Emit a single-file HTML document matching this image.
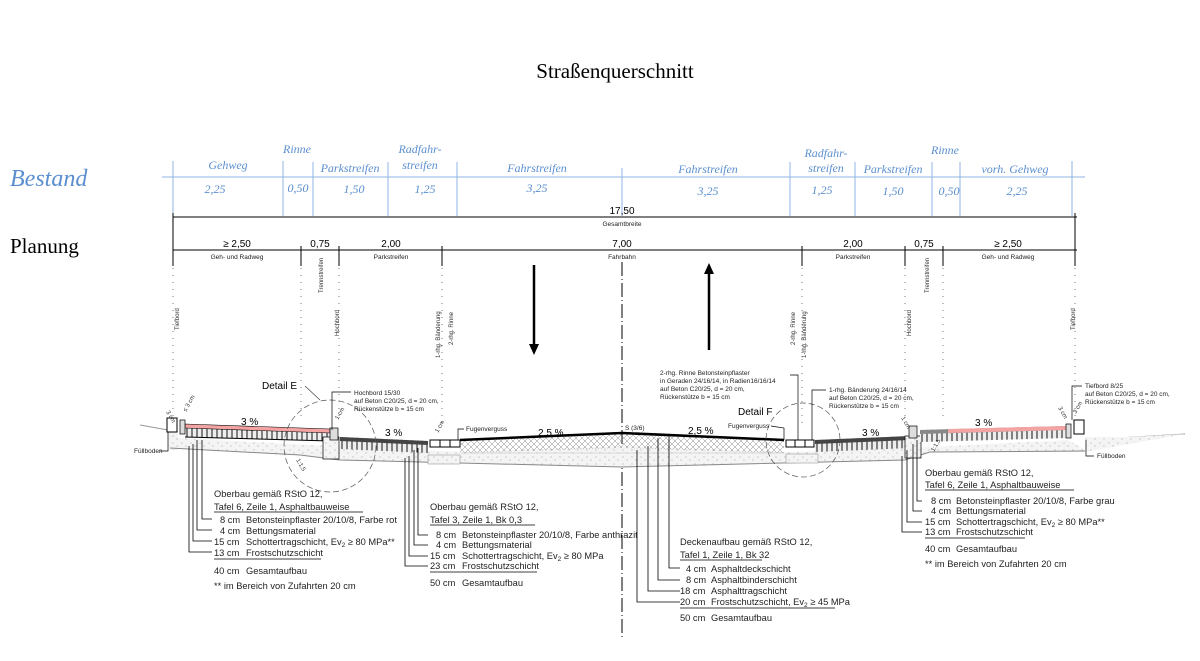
<!DOCTYPE html>
<html><head><meta charset="utf-8"><style>
html,body{margin:0;padding:0;background:#fff;}
svg{display:block;font-family:"Liberation Sans",sans-serif;}
.b{font-family:"Liberation Serif",serif;font-style:italic;fill:#5b8fcf;font-size:12px;text-anchor:middle;}
.t{font-size:9.3px;fill:#222;}
.s{font-size:6.5px;fill:#222;}
.v{font-size:6px;fill:#333;}
</style></head><body>
<svg width="1200" height="661" viewBox="0 0 1200 661">
<defs>
<pattern id="hx" width="6" height="6" patternUnits="userSpaceOnUse"><path d="M0 0L6 6M6 0L0 6" stroke="#888" stroke-width="0.5"/></pattern>
<pattern id="vh" width="5" height="10" patternUnits="userSpaceOnUse"><rect width="5" height="10" fill="#eee"/><path d="M2 0V10" stroke="#111" stroke-width="1"/></pattern>
<pattern id="dt" width="9" height="7" patternUnits="userSpaceOnUse"><rect width="9" height="7" fill="#f4f4f4"/><circle cx="2" cy="2" r="0.5" fill="#888"/><circle cx="6" cy="5" r="0.5" fill="#888"/></pattern>
</defs>
<text x="615" y="78" font-family="Liberation Serif,serif" font-size="21" text-anchor="middle">Straßenquerschnitt</text>
<text x="10" y="186" font-family="Liberation Serif,serif" font-style="italic" font-size="24" fill="#5b8fcf">Bestand</text>
<text x="10" y="253" font-family="Liberation Serif,serif" font-size="21">Planung</text>

<g stroke="#8fb6e3" stroke-width="1">
<line x1="162" y1="177" x2="1085" y2="177"/>
<line x1="173" y1="161" x2="173" y2="216"/><line x1="283" y1="161" x2="283" y2="216"/>
<line x1="313" y1="162" x2="313" y2="216"/><line x1="388" y1="162" x2="388" y2="216"/>
<line x1="457" y1="162" x2="457" y2="216"/><line x1="622" y1="168" x2="622" y2="216"/>
<line x1="790" y1="162" x2="790" y2="216"/><line x1="855" y1="162" x2="855" y2="216"/>
<line x1="932" y1="162" x2="932" y2="216"/><line x1="960" y1="162" x2="960" y2="216"/>
<line x1="1072" y1="161" x2="1072" y2="216"/>
</g>
<text class="b" x="228" y="169" font-size="13">Gehweg</text>
<text class="b" x="297" y="153" font-size="13">Rinne</text>
<text class="b" x="350" y="172" font-size="13">Parkstreifen</text>
<text class="b" x="420" y="153" font-size="13">Radfahr-</text>
<text class="b" x="420" y="169" font-size="13">streifen</text>
<text class="b" x="537" y="172" font-size="13">Fahrstreifen</text>
<text class="b" x="708" y="173" font-size="13">Fahrstreifen</text>
<text class="b" x="826" y="157" font-size="13">Radfahr-</text>
<text class="b" x="826" y="172" font-size="13">streifen</text>
<text class="b" x="893" y="173" font-size="13">Parkstreifen</text>
<text class="b" x="945" y="154" font-size="13">Rinne</text>
<text class="b" x="1015" y="173" font-size="13">vorh. Gehweg</text>
<text class="b" x="215" y="193" font-size="13">2,25</text>
<text class="b" x="298" y="192" font-size="13">0,50</text>
<text class="b" x="354" y="193" font-size="13">1,50</text>
<text class="b" x="425" y="193" font-size="13">1,25</text>
<text class="b" x="537" y="192" font-size="13">3,25</text>
<text class="b" x="708" y="195" font-size="13">3,25</text>
<text class="b" x="822" y="194" font-size="13">1,25</text>
<text class="b" x="893" y="195" font-size="13">1,50</text>
<text class="b" x="949" y="195" font-size="13">0,50</text>
<text class="b" x="1017" y="195" font-size="13">2,25</text>

<g stroke="#000" stroke-width="1">
<line x1="173" y1="217" x2="1077" y2="217"/>
<line x1="173" y1="250" x2="1077" y2="250"/>
<line x1="173" y1="213" x2="173" y2="266"/><line x1="1075" y1="213" x2="1075" y2="266"/>
<line x1="301" y1="246" x2="301" y2="266"/><line x1="339" y1="246" x2="339" y2="266"/>
<line x1="442" y1="246" x2="442" y2="266"/><line x1="802" y1="246" x2="802" y2="266"/>
<line x1="905" y1="246" x2="905" y2="266"/><line x1="943" y1="246" x2="943" y2="266"/>
</g>
<text x="622" y="214" font-size="10" text-anchor="middle">17,50</text>
<text class="s" x="622" y="226" text-anchor="middle">Gesamtbreite</text>
<g font-size="10" text-anchor="middle">
<text x="237" y="247">≥ 2,50</text><text x="320" y="247">0,75</text><text x="391" y="247">2,00</text>
<text x="622" y="247">7,00</text><text x="853" y="247">2,00</text><text x="924" y="247">0,75</text><text x="1008" y="247">≥ 2,50</text>
</g>
<g class="s" text-anchor="middle">
<text x="237" y="259">Geh- und Radweg</text><text x="391" y="259">Parkstreifen</text><text x="622" y="259">Fahrbahn</text>
<text x="853" y="259">Parkstreifen</text><text x="1008" y="259">Geh- und Radweg</text>
</g>

<g stroke="#777" stroke-width="1" stroke-dasharray="1,6">
<line x1="173" y1="268" x2="173" y2="420"/><line x1="301" y1="268" x2="301" y2="420"/>
<line x1="339" y1="268" x2="339" y2="420"/><line x1="442" y1="268" x2="442" y2="425"/>
<line x1="802" y1="268" x2="802" y2="425"/><line x1="905" y1="268" x2="905" y2="420"/>
<line x1="943" y1="268" x2="943" y2="420"/><line x1="1075" y1="268" x2="1075" y2="420"/>
</g>
<line x1="622" y1="262" x2="622" y2="640" stroke="#000" stroke-width="1" stroke-dasharray="14,3,1,3"/>

<g class="v">
<text transform="translate(179,330) rotate(-90)">Tiefbord</text>
<text transform="translate(323,293) rotate(-90)">Trennstreifen</text>
<text transform="translate(339,336) rotate(-90)">Hochbord</text>
<text transform="translate(440,358) rotate(-90)">1-rhg. Bänderung</text>
<text transform="translate(453,345) rotate(-90)">2-rhg. Rinne</text>
<text transform="translate(795,345) rotate(-90)">2-rhg. Rinne</text>
<text transform="translate(806,358) rotate(-90)">1-rhg. Bänderung</text>
<text transform="translate(911,336) rotate(-90)">Hochbord</text>
<text transform="translate(929,293) rotate(-90)">Trennstreifen</text>
<text transform="translate(1075,330) rotate(-90)">Tiefbord</text>
</g>

<line x1="534" y1="265" x2="534" y2="344" stroke="#000" stroke-width="2.5"/>
<polygon points="529,344 539,344 534,355" fill="#000"/>
<line x1="709" y1="274" x2="709" y2="350" stroke="#000" stroke-width="2.5"/>
<polygon points="704,274 714,274 709,263" fill="#000"/>

<polyline points="140,425 168,430" fill="none" stroke="#999"/>
<polyline points="1085,440 1185,434" fill="none" stroke="#999"/>
<polygon points="1085,437 1130,437 1185,434 1085,452" fill="url(#dt)"/>
<polygon points="168,430 168,450 178,450 178,430" fill="url(#dt)"/>

<polygon points="178,438 330,446 462,452 622,446 784,452 912,448 1068,440 1085,450 1085,452 930,452 905,460 622,467 340,460 300,455 178,448" fill="url(#dt)" stroke="none"/>
<polyline points="170,448 300,455 340,460 622,467 905,460 930,452 1085,451" fill="none" stroke="#888" stroke-width="1"/>

<polygon points="185,424 330,429 330,441 185,437" fill="url(#vh)"/>
<polygon points="185,424 330,429 330,433 185,428" fill="#f4a3a3" stroke="#000" stroke-width="0.6"/>
<line x1="185" y1="437" x2="330" y2="441" stroke="#000" stroke-width="1"/>
<rect x="167" y="418" width="10" height="14" fill="#fff" stroke="#000"/>
<rect x="180" y="420" width="5" height="14" fill="#ddd" stroke="#000" stroke-width="0.7"/>
<rect x="323" y="437" width="16" height="22" fill="url(#dt)" stroke="#000" stroke-width="0.7"/>
<rect x="330" y="428" width="8" height="12" fill="#ddd" stroke="#000" stroke-width="0.7"/>
<polygon points="340,437 428,441 428,453 340,449" fill="url(#vh)"/>
<polygon points="340,437 428,441 428,445 340,441" fill="#444"/>
<rect x="428" y="455" width="32" height="9" fill="url(#dt)" stroke="#888" stroke-width="0.5"/>
<rect x="430" y="440" width="30" height="7" fill="#fff" stroke="#000"/>
<line x1="440" y1="440" x2="440" y2="447" stroke="#000"/><line x1="450" y1="440" x2="450" y2="447" stroke="#000"/>
<polygon points="460,440 622,433 784,440 784,453 622,448 460,453" fill="url(#hx)"/>
<polyline points="460,440 622,433 784,440" fill="none" stroke="#000" stroke-width="2.5"/>
<line x1="460" y1="453" x2="784" y2="453" stroke="#bbb" stroke-width="0.6"/>
<rect x="786" y="454" width="32" height="9" fill="url(#dt)" stroke="#888" stroke-width="0.5"/>
<rect x="786" y="440" width="28" height="7" fill="#fff" stroke="#000"/>
<line x1="795" y1="440" x2="795" y2="447" stroke="#000"/><line x1="805" y1="440" x2="805" y2="447" stroke="#000"/>
<polygon points="815,440 910,436 910,448 815,452" fill="url(#vh)"/>
<polygon points="815,440 910,436 910,440 815,444" fill="#444"/>
<rect x="905" y="436" width="16" height="22" fill="url(#dt)" stroke="#000" stroke-width="0.7"/>
<rect x="909" y="426" width="8" height="12" fill="#ddd" stroke="#000" stroke-width="0.7"/>
<polygon points="920,430 1068,426 1068,438 920,442" fill="url(#vh)"/>
<polygon points="920,430 1068,426 1068,430 920,434" fill="#888"/>
<polygon points="948,429 1068,426 1068,430 948,433" fill="#f4a3a3"/>
<rect x="1066" y="424" width="5" height="14" fill="#ddd" stroke="#000" stroke-width="0.7"/>
<rect x="1074" y="420" width="10" height="14" fill="#fff" stroke="#000"/>

<circle cx="330" cy="446" r="46" fill="none" stroke="#555" stroke-width="0.7" stroke-dasharray="6,3"/>
<circle cx="803" cy="440" r="37" fill="none" stroke="#555" stroke-width="0.7" stroke-dasharray="6,3"/>
<text x="262" y="389" font-size="10">Detail E</text>
<line x1="305" y1="386" x2="320" y2="400" stroke="#333" stroke-width="0.6"/>
<text x="738" y="415" font-size="10">Detail F</text>

<polyline points="332,430 332,392 351,392" fill="none" stroke="#000" stroke-width="0.7"/>
<g class="s"><text x="354" y="395">Hochbord 15/30</text><text x="354" y="403">auf Beton C20/25, d = 20 cm,</text><text x="354" y="411">Rückenstütze b = 15 cm</text></g>
<polyline points="458,440 458,429 464,429" fill="none" stroke="#000" stroke-width="0.7"/>
<text class="s" x="466" y="431">Fugenverguss</text>
<polyline points="798,440 798,375 790,375" fill="none" stroke="#000" stroke-width="0.7"/>
<g class="s"><text x="660" y="375">2-rhg. Rinne Betonsteinpflaster</text><text x="660" y="383">in Geraden 24/16/14, in Radien16/16/14</text><text x="660" y="391">auf Beton C20/25, d = 20 cm,</text><text x="660" y="399">Rückenstütze b = 15 cm</text></g>
<polyline points="812,440 812,390 826,390" fill="none" stroke="#000" stroke-width="0.7"/>
<g class="s"><text x="829" y="392">1-rhg. Bänderung 24/16/14</text><text x="829" y="400">auf Beton C20/25, d = 20 cm,</text><text x="829" y="408">Rückenstütze b = 15 cm</text></g>
<text class="s" x="728" y="428">Fugenverguss</text>
<polyline points="771,426 784,428 784,440" fill="none" stroke="#000" stroke-width="0.7"/>
<polyline points="1072,420 1072,386 1082,386" fill="none" stroke="#000" stroke-width="0.7"/>
<g class="s"><text x="1085" y="388">Tiefbord 8/25</text><text x="1085" y="396">auf Beton C20/25, d = 20 cm,</text><text x="1085" y="404">Rückenstütze b = 15 cm</text></g>
<polyline points="168,432 168,451 160,451" fill="none" stroke="#000" stroke-width="0.7"/>
<text class="s" x="134" y="453">Füllboden</text>
<polyline points="1086,440 1086,456 1094,456" fill="none" stroke="#000" stroke-width="0.7"/>
<text class="s" x="1097" y="458">Füllboden</text>

<g font-size="10"><text x="241" y="425">3 %</text><text x="385" y="436">3 %</text><text x="538" y="436">2,5 %</text>
<text x="688" y="434">2,5 %</text><text x="862" y="436">3 %</text><text x="975" y="426">3 %</text></g>
<text class="s" x="625" y="430">S (3/6)</text>
<g class="v"><text transform="translate(166,412) rotate(60)">3 cm</text><text transform="translate(186,412) rotate(-60)">≤ 3 cm</text>
<text transform="translate(338,420) rotate(-60)">1 cm</text><text transform="translate(438,433) rotate(-60)">1 cm</text>
<text transform="translate(901,418) rotate(60)">1 cm</text><text transform="translate(1058,408) rotate(60)">3 cm</text>
<text transform="translate(1076,414) rotate(-60)">3 cm</text>
<text transform="translate(296,460) rotate(60)">1:1,5</text><text transform="translate(934,452) rotate(-60)">1:1,5</text></g>

<g fill="none" stroke="#000" stroke-width="0.8">
<polyline points="202,440 202,519 212,519"/><polyline points="197,440 197,530 212,530"/>
<polyline points="193,444 193,541 212,541"/><polyline points="189,446 189,552 212,552"/>
<polyline points="418,448 418,535 428,535"/><polyline points="414,450 414,545 428,545"/>
<polyline points="409,456 409,556 428,556"/><polyline points="405,458 405,566 428,566"/>
<polyline points="669,436 669,568 680,568"/><polyline points="658,438 658,580 680,580"/>
<polyline points="648,446 648,591 680,591"/><polyline points="637,450 637,602 680,602"/>
<polyline points="917,440 917,501 922,501"/><polyline points="913,444 913,511 922,511"/>
<polyline points="907,450 907,522 922,522"/><polyline points="902,456 902,532 922,532"/>
</g>

<g class="t">
<text x="214" y="497">Oberbau gemäß RStO 12,</text>
<text x="214" y="510">Tafel 6, Zeile 1, Asphaltbauweise</text>
<line x1="214" y1="512" x2="363" y2="512" stroke="#000" stroke-width="0.7"/>
<text x="220" y="523">8 cm</text><text x="246" y="523">Betonsteinpflaster 20/10/8, Farbe rot</text>
<text x="220" y="534">4 cm</text><text x="246" y="534">Bettungsmaterial</text>
<text x="214" y="545">15 cm</text><text x="246" y="545">Schottertragschicht, Ev<tspan font-size="6.5" dy="2">2</tspan><tspan dy="-2"> ≥ 80 MPa**</tspan></text>
<text x="214" y="556">13 cm</text><text x="246" y="556">Frostschutzschicht</text>
<line x1="214" y1="559" x2="321" y2="559" stroke="#000" stroke-width="0.8"/>
<text x="214" y="574">40 cm</text><text x="246" y="574">Gesamtaufbau</text>
<text x="214" y="589">** im Bereich von Zufahrten 20 cm</text>

<text x="430" y="510">Oberbau gemäß RStO 12,</text>
<text x="430" y="523">Tafel 3, Zeile 1, Bk 0,3</text>
<line x1="430" y1="525" x2="535" y2="525" stroke="#000" stroke-width="0.7"/>
<text x="436" y="538">8 cm</text><text x="462" y="538">Betonsteinpflaster 20/10/8, Farbe anthrazit</text>
<text x="436" y="548">4 cm</text><text x="462" y="548">Bettungsmaterial</text>
<text x="430" y="559">15 cm</text><text x="462" y="559">Schottertragschicht, Ev<tspan font-size="6.5" dy="2">2</tspan><tspan dy="-2"> ≥ 80 MPa</tspan></text>
<text x="430" y="569">23 cm</text><text x="462" y="569">Frostschutzschicht</text>
<line x1="430" y1="572" x2="537" y2="572" stroke="#000" stroke-width="0.8"/>
<text x="430" y="586">50 cm</text><text x="462" y="586">Gesamtaufbau</text>

<text x="680" y="545">Deckenaufbau gemäß RStO 12,</text>
<text x="680" y="558">Tafel 1, Zeile 1, Bk 32</text>
<line x1="680" y1="560" x2="762" y2="560" stroke="#000" stroke-width="0.7"/>
<text x="686" y="572">4 cm</text><text x="711" y="572">Asphaltdeckschicht</text>
<text x="686" y="583">8 cm</text><text x="711" y="583">Asphaltbinderschicht</text>
<text x="680" y="594">18 cm</text><text x="711" y="594">Asphalttragschicht</text>
<text x="680" y="605">20 cm</text><text x="711" y="605">Frostschutzschicht, Ev<tspan font-size="6.5" dy="2">2</tspan><tspan dy="-2"> ≥ 45 MPa</tspan></text>
<line x1="680" y1="608" x2="835" y2="608" stroke="#000" stroke-width="0.8"/>
<text x="680" y="621">50 cm</text><text x="711" y="621">Gesamtaufbau</text>

<text x="925" y="476">Oberbau gemäß RStO 12,</text>
<text x="925" y="488">Tafel 6, Zeile 1, Asphaltbauweise</text>
<line x1="925" y1="490" x2="1074" y2="490" stroke="#000" stroke-width="0.7"/>
<text x="931" y="504">8 cm</text><text x="956" y="504">Betonsteinpflaster 20/10/8, Farbe grau</text>
<text x="931" y="514">4 cm</text><text x="956" y="514">Bettungsmaterial</text>
<text x="925" y="525">15 cm</text><text x="956" y="525">Schottertragschicht, Ev<tspan font-size="6.5" dy="2">2</tspan><tspan dy="-2"> ≥ 80 MPa**</tspan></text>
<text x="925" y="535">13 cm</text><text x="956" y="535">Frostschutzschicht</text>
<line x1="925" y1="538" x2="1025" y2="538" stroke="#000" stroke-width="0.8"/>
<text x="925" y="552">40 cm</text><text x="956" y="552">Gesamtaufbau</text>
<text x="925" y="567">** im Bereich von Zufahrten 20 cm</text>
</g>
</svg>
</body></html>
